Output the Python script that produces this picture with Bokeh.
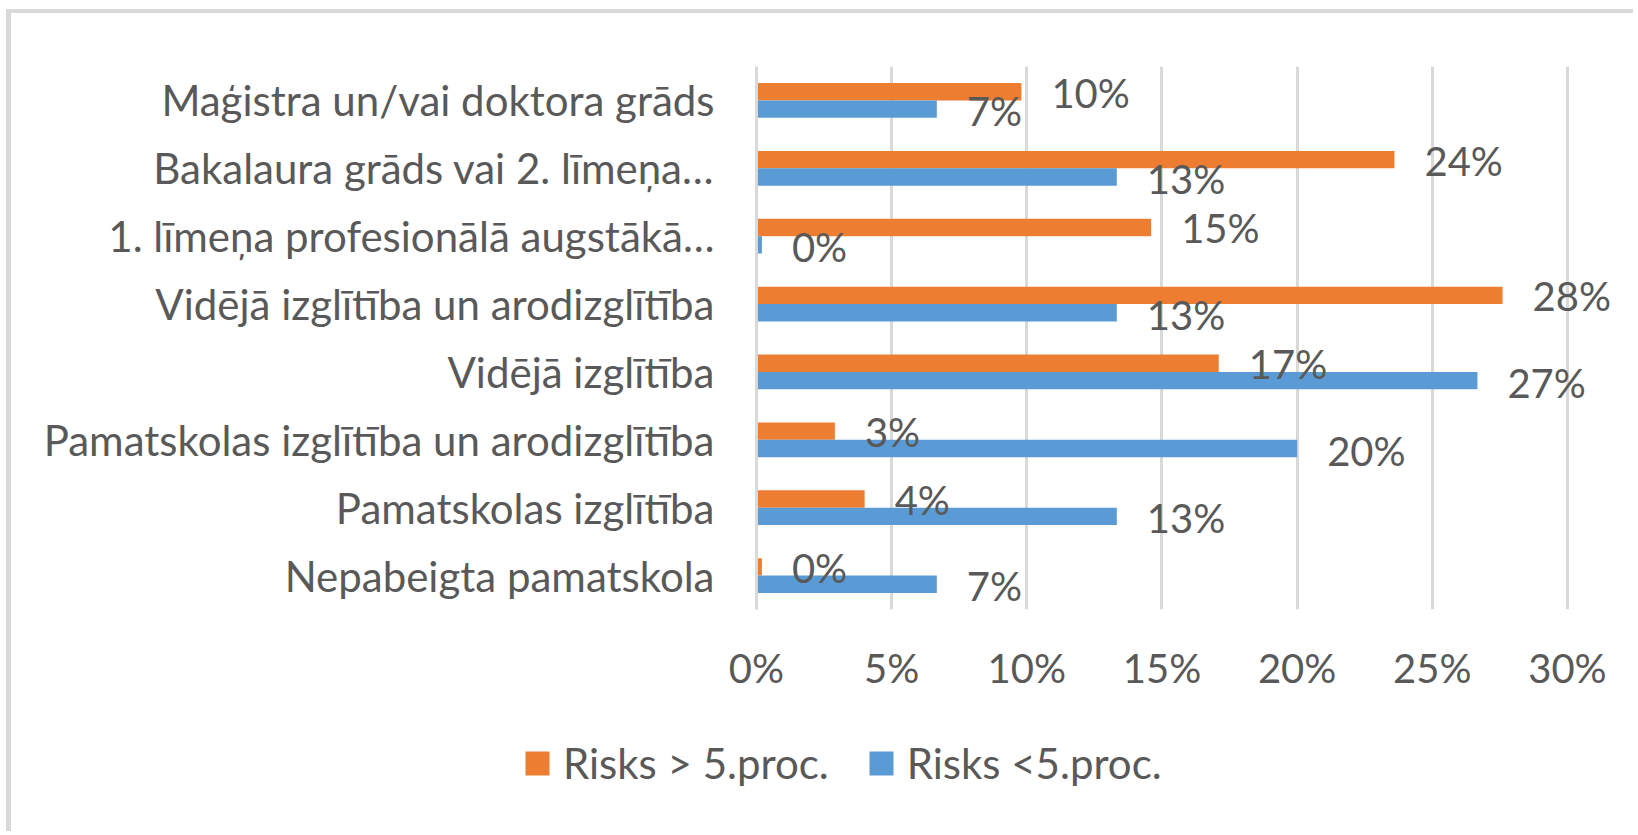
from bokeh.plotting import figure
from bokeh.layouts import column
from bokeh.models import (FactorRange, Range1d, FixedTicker, PrintfTickFormatter,
                          Legend, LegendItem, ColumnDataSource)
from bokeh.transform import dodge
from bokeh.core.properties import value
from bokeh.embed import file_html
from bokeh.resources import INLINE

categories = [
    "Maģistra un/vai doktora grāds",
    "Bakalaura grāds vai 2. līmeņa…",
    "1. līmeņa profesionālā augstākā…",
    "Vidējā izglītība un arodizglītība",
    "Vidējā izglītība",
    "Pamatskolas izglītība un arodizglītība",
    "Pamatskolas izglītība",
    "Nepabeigta pamatskola",
]
risk_high = [9.8, 23.6, 14.6, 27.6, 17.1, 2.9, 4.0, 0.2]      # Risks > 5.proc. (%)
risk_low = [6.67, 13.33, 0.2, 13.33, 26.67, 20.0, 13.33, 6.67]  # Risks <5.proc. (%)
series_names = ["Risks > 5.proc.", "Risks <5.proc."]
x_ticks = [0, 5, 10, 15, 20, 25, 30]

ORANGE = "#ED7D31"
BLUE = "#5B9BD5"
GRID = "#D9D9D9"
TXT = "#595959"
FONT = "Lato"
FS = "42px"
FS_NUM = "40px"

src = ColumnDataSource(dict(
    cat=categories,
    high=risk_high,
    low=risk_low,
    high_lbl=[f"{v:.0f}%" for v in risk_high],
    low_lbl=[f"{v:.0f}%" for v in risk_low],
))

W = 1627
H1 = 700
H2 = 122

p = figure(width=W, height=H1,
           y_range=FactorRange(*reversed(categories)),
           x_range=Range1d(0, 32),
           output_backend="svg", toolbar_location=None,
           min_border_left=745, min_border_right=17,
           min_border_top=53, min_border_bottom=104)
p.frame_align = False
p.outline_line_color = None
p.background_fill_color = "white"
p.border_fill_color = "white"
p.styles = {"border-top": "4px solid #D9D9D9", "border-left": "5px solid #D9D9D9"}

bh = 0.255
off = 0.128
r1 = p.hbar(y=dodge("cat", off, range=p.y_range), right="high", left=0, height=bh,
            source=src, fill_color=ORANGE, line_color=None)
r2 = p.hbar(y=dodge("cat", -off, range=p.y_range), right="low", left=0, height=bh,
            source=src, fill_color=BLUE, line_color=None)

p.text(x="high", y=dodge("cat", off, range=p.y_range), text="high_lbl", source=src,
       x_offset=30, y_offset=1, text_baseline="middle", text_align="left",
       text_font=value(FONT), text_font_size=FS_NUM, text_color=TXT)
p.text(x="low", y=dodge("cat", -off, range=p.y_range), text="low_lbl", source=src,
       x_offset=30, y_offset=2, text_baseline="middle", text_align="left",
       text_font=value(FONT), text_font_size=FS_NUM, text_color=TXT)

# axes
p.xaxis.ticker = FixedTicker(ticks=x_ticks)
p.xaxis.formatter = PrintfTickFormatter(format="%d%%")
p.xaxis.axis_line_color = None
p.xaxis.major_tick_line_color = None
p.xaxis.minor_tick_line_color = None
p.xaxis.major_tick_out = 0
p.xaxis.major_tick_in = 0
p.xaxis.major_label_standoff = 34
p.xaxis.major_label_text_font = FONT
p.xaxis.major_label_text_font_size = FS_NUM
p.xaxis.major_label_text_color = TXT

p.yaxis.axis_line_color = GRID
p.yaxis.axis_line_width = 3
p.yaxis.major_tick_line_color = None
p.yaxis.minor_tick_line_color = None
p.yaxis.major_tick_out = 0
p.yaxis.major_tick_in = 0
p.yaxis.major_label_standoff = 42
p.yaxis.major_label_text_font = FONT
p.yaxis.major_label_text_font_size = FS
p.yaxis.major_label_text_color = TXT

p.xgrid.ticker = FixedTicker(ticks=x_ticks)
p.xgrid.grid_line_color = GRID
p.xgrid.grid_line_width = 3
p.ygrid.grid_line_color = None

# legend panel (separate canvas below the chart)
q = figure(width=W, height=H2, x_range=Range1d(0, 1), y_range=Range1d(0, 1),
           x_axis_type=None, y_axis_type=None,
           output_backend="svg", toolbar_location=None,
           min_border=0)
q.frame_align = False
q.outline_line_color = None
q.grid.grid_line_color = None
q.background_fill_color = "white"
q.border_fill_color = "white"
q.styles = {"border-left": "5px solid #D9D9D9"}
# legend proxies, placed outside the visible range of this legend canvas
lr1 = q.hbar(y=[-5], right=[0], left=[0], height=0.1, fill_color=ORANGE, line_color=None)
lr2 = q.hbar(y=[-5], right=[0], left=[0], height=0.1, fill_color=BLUE, line_color=None)

legend = Legend(items=[LegendItem(label=series_names[0], renderers=[lr1]),
                       LegendItem(label=series_names[1], renderers=[lr2])],
                orientation="horizontal", location=(511, 43))
legend.border_line_color = None
legend.background_fill_alpha = 0
legend.padding = 0
legend.margin = 0
legend.spacing = 37
legend.label_standoff = 11
legend.glyph_width = 30
legend.glyph_height = 30
legend.label_text_font = FONT
legend.label_text_font_size = FS
legend.label_text_color = TXT
q.add_layout(legend, "center")

layout = column(p, q, spacing=0, margin=(9, 0, 0, 6))
open("out.html", "w").write(file_html(layout, INLINE))
